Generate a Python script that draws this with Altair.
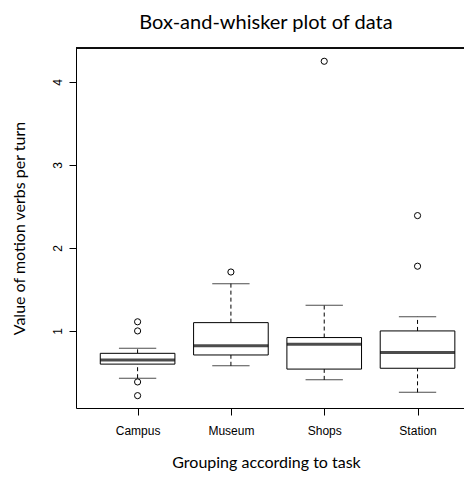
import altair as alt
import pandas as pd

groups = ["Campus", "Museum", "Shops", "Station"]
lower_whisker = [0.43, 0.58, 0.41, 0.26]
q1 = [0.60, 0.71, 0.54, 0.55]
median = [0.65, 0.82, 0.84, 0.74]
q3 = [0.73, 1.10, 0.92, 1.00]
upper_whisker = [0.79, 1.57, 1.31, 1.17]

outlier_group = ["Campus", "Campus", "Campus", "Campus", "Museum", "Shops", "Station", "Station"]
outlier_value = [1.11, 1.00, 0.385, 0.22, 1.71, 4.25, 2.39, 1.78]

stats = pd.DataFrame({
    "group": groups, "lo": lower_whisker, "q1": q1, "med": median,
    "q3": q3, "hi": upper_whisker,
})
outs = pd.DataFrame({"group": outlier_group, "value": outlier_value})

W, H = 388, 360
STEP = 93.3
BOX = 0.8 * STEP
CAP = 0.4 * STEP

xscale = alt.Scale(type="point", domain=groups, padding=0.579, align=0.570)
yscale = alt.Scale(domain=[0.071, 4.41], nice=False, zero=False)

x_axis = alt.Axis(
    title="Grouping according to task", labelAngle=0, tickSize=7,
    labelPadding=10, labelFont="Liberation Sans", labelFontSize=12,
    labelColor="black", tickColor="black", domainColor="black",
    titleFont="Lato", titleFontSize=16, titleFontWeight="normal",
    titleColor="black", titleX=190, titleY=59, titleBaseline="alphabetic",
    titleAnchor="start", titleAlign="center", grid=False,
)
y_axis = alt.Axis(
    title="Value of motion verbs per turn", values=[1, 2, 3, 4],
    labelAngle=270, tickSize=7, labelPadding=5, format="d",
    labelFont="Liberation Sans", labelFontSize=12, labelColor="black",
    tickColor="black", domainColor="black", titleFont="Lato",
    titleFontSize=16, titleFontWeight="normal", titleColor="black",
    titleAngle=270, titleX=-52, titleY=180, titleBaseline="alphabetic",
    titleAlign="center", grid=False,
)

base = alt.Chart(stats)
X = alt.X("group:N", scale=xscale, axis=x_axis, sort=groups)

upper = base.mark_rule(color="black", strokeDash=[4, 3], strokeWidth=1).encode(
    x=X, y=alt.Y("q3:Q", scale=yscale, axis=y_axis), y2="hi:Q")
lower = base.mark_rule(color="black", strokeDash=[4, 3], strokeWidth=1).encode(
    x=X, y=alt.Y("lo:Q", scale=yscale, axis=y_axis), y2="q1:Q")
box = base.mark_bar(fill="white", stroke="black", strokeWidth=1, size=BOX).encode(
    x=X, y=alt.Y("q1:Q", scale=yscale, axis=y_axis), y2="q3:Q")
med = base.mark_tick(color="black", thickness=3, size=BOX).encode(
    x=X, y=alt.Y("med:Q", scale=yscale, axis=y_axis))
cap_hi = base.mark_tick(color="black", thickness=1, size=CAP).encode(
    x=X, y=alt.Y("hi:Q", scale=yscale, axis=y_axis))
cap_lo = base.mark_tick(color="black", thickness=1, size=CAP).encode(
    x=X, y=alt.Y("lo:Q", scale=yscale, axis=y_axis))
pts = alt.Chart(outs).mark_point(shape="circle", filled=False, color="black",
                                 size=38, strokeWidth=1, opacity=1).encode(
    x=X, y=alt.Y("value:Q", scale=yscale, axis=y_axis))
top = base.mark_rule(color="black", strokeWidth=1).encode(
    x=alt.value(0), x2=alt.value(W), y=alt.value(0))

chart = alt.layer(upper, lower, box, med, cap_hi, cap_lo, pts, top).properties(
    width=W, height=H,
    autosize=alt.AutoSizeParams(type="none"),
    padding={"left": 68, "top": 40, "right": 0, "bottom": 63},
    title=alt.TitleParams(
        "Box-and-whisker plot of data", font="Lato", fontSize=20,
        fontWeight="normal", color="black", anchor="middle", dx=-4,
        offset=-1, baseline="alphabetic", frame="group",
    ),
).configure_view(stroke=None).configure(background="white")

chart.save("out.html", embed_options={"renderer": "svg", "actions": False})
